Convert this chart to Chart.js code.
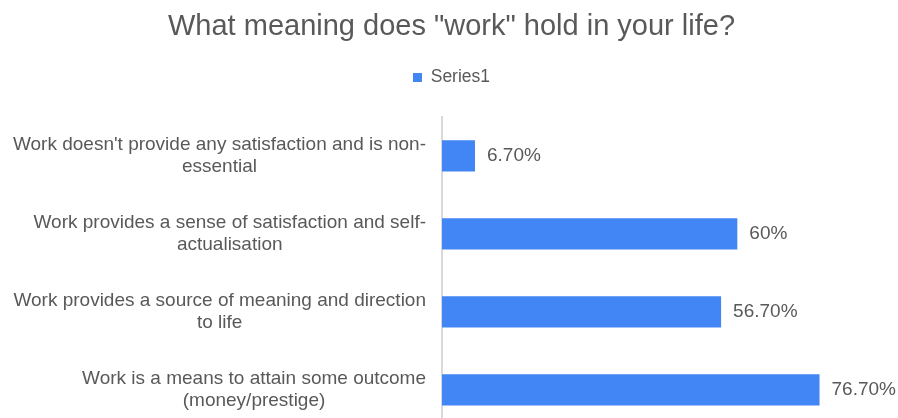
<!DOCTYPE html>
<html>
<head>
<meta charset="utf-8">
<title>What meaning does "work" hold in your life?</title>
<script src="https://cdn.jsdelivr.net/npm/chart.js@4"></script>
<style>
  html, body { margin: 0; padding: 0; background: #fff; overflow: hidden; }
  #wrap { width: 898px; height: 440px; }
</style>
</head>
<body>
<div id="wrap"><canvas id="chart" width="898" height="440"></canvas></div>
<script>
// ── Data ──────────────────────────────────────────
const categories = [
  ["Work doesn't provide any satisfaction and is non-", 'essential'],
  ['Work provides a sense of satisfaction and self-', 'actualisation'],
  ['Work provides a source of meaning and direction', 'to life'],
  ['Work is a means to attain some outcome', '(money/prestige)']
];
const series1 = [6.7, 60, 56.7, 76.7];
const seriesName = 'Series1';

const TEXT = '#595959';
const BLUE = '#4285f4';
const FONT = "'Liberation Sans', Arial, sans-serif";

function pct(v) {
  return (Number.isInteger(v) ? v : v.toFixed(2)) + '%';
}

// ── Category labels (each label's lines centred on itself) ──
const yLabels = {
  id: 'yLabels',
  afterDraw(chart) {
    const { ctx, scales: { y } } = chart;
    const right = y.right - 16;
    ctx.save();
    ctx.font = '19px ' + FONT;
    ctx.fillStyle = TEXT;
    ctx.textAlign = 'center';
    ctx.textBaseline = 'middle';
    categories.forEach((lines, i) => {
      const cy = y.getPixelForValue(i);
      const w = Math.max(...lines.map(l => ctx.measureText(l).width));
      const cx = right - w / 2;
      lines.forEach((line, j) => {
        ctx.fillText(line, cx, cy + (j - (lines.length - 1) / 2) * 21.5);
      });
    });
    ctx.restore();
  }
};

// ── Value labels at the end of each bar ───────────
const valueLabels = {
  id: 'valueLabels',
  afterDatasetsDraw(chart) {
    const { ctx } = chart;
    const meta = chart.getDatasetMeta(0);
    ctx.save();
    ctx.font = '19px ' + FONT;
    ctx.fillStyle = TEXT;
    ctx.textAlign = 'left';
    ctx.textBaseline = 'middle';
    meta.data.forEach((bar, i) => {
      ctx.fillText(pct(series1[i]), bar.x + 12, bar.y);
    });
    ctx.restore();
  }
};

// ── Chart ─────────────────────────────────────────
Chart.defaults.font.family = FONT;
Chart.defaults.color = TEXT;

new Chart(document.getElementById('chart'), {
  type: 'bar',
  data: {
    labels: categories,
    datasets: [{
      label: seriesName,
      data: series1,
      backgroundColor: BLUE,
      borderWidth: 0,
      categoryPercentage: 0.8,
      barPercentage: 0.5
    }]
  },
  options: {
    indexAxis: 'y',
    responsive: false,
    animation: false,
    devicePixelRatio: 1,
    layout: { padding: { left: 18, right: 13, top: 0, bottom: 11 } },
    plugins: {
      title: {
        display: true,
        text: 'What meaning does "work" hold in your life?',
        color: TEXT,
        font: { size: 29, weight: 'normal' },
        padding: { top: 10, bottom: 14 }
      },
      legend: {
        display: true,
        labels: {
          color: TEXT,
          font: { size: 17.5 },
          boxWidth: 9,
          boxHeight: 9,
          padding: 10
        }
      },
      tooltip: { enabled: false }
    },
    scales: {
      x: {
        position: 'top',
        min: 0,
        max: 90,
        grid: { display: false },
        border: { display: false },
        ticks: { display: false },
        afterFit(scale) { scale.height = 20.5; }
      },
      y: {
        grid: { display: false },
        border: { display: true, color: '#d9d9d9', width: 2 },
        ticks: { display: false },
        afterFit(scale) { scale.width = 424; }
      }
    }
  },
  plugins: [yLabels, valueLabels]
});
</script>
</body>
</html>
